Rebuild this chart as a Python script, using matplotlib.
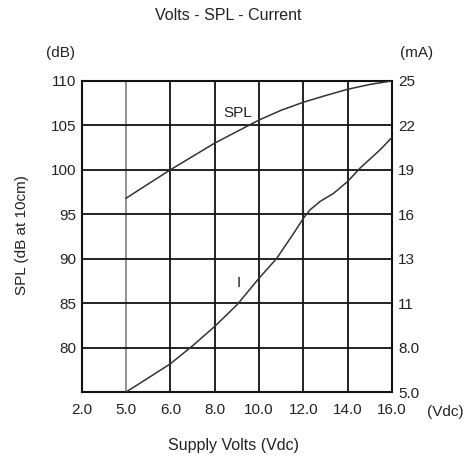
import numpy as np
import matplotlib
matplotlib.use("Agg")
import matplotlib.pyplot as plt

plt.rcParams['font.family'] = ['Liberation Sans', 'DejaVu Sans']

# Axis categories / labels
x_labels = ["2.0", "5.0", "6.0", "8.0", "10.0", "12.0", "14.0", "16.0"]
x_values = [2.0, 5.0, 6.0, 8.0, 10.0, 12.0, 14.0, 16.0]
db_ticks = [80, 85, 90, 95, 100, 105, 110]
ma_labels = ["5.0", "8.0", "11", "13", "16", "19", "22", "25"]
ma_values = [5.0, 8.0, 11.0, 13.0, 16.0, 19.0, 22.0, 25.0]

# SPL curve (dB) vs supply volts
spl_volts = [5, 5.5, 6, 7, 8, 9, 10, 11, 12, 13, 14, 15, 16]
spl_db = [96.8, 98.4, 100.0, 101.5, 103.0, 104.3, 105.6, 106.7, 107.6, 108.35, 109.06, 109.6, 110.0]

# Current curve (mA) vs supply volts
cur_volts = [5, 5.5, 6, 7, 8, 9, 10, 10.8, 11.56, 12, 12.3, 12.76, 13.36, 14, 14.56, 15.46, 16]
cur_ma = [5.0, 5.95, 6.91, 8.12, 9.43, 10.88, 12.12, 13.03, 14.71, 15.73, 16.3, 16.87,
          17.41, 18.22, 19.12, 20.35, 21.19]

fig = plt.figure(figsize=(4.69, 4.57), dpi=100)
ax = fig.add_axes([0.174, 0.142, 0.662, 0.681])

pos = np.arange(len(x_values))
ax.set_xlim(0, len(x_values) - 1)
ax.set_ylim(75, 110)

# grid
for i, p in enumerate(pos):
    if 0 < i < len(pos) - 1:
        col = '#8a8a8a' if i == 1 else '#111111'
        ax.axvline(p, color=col, lw=1.3, zorder=1)
for t in db_ticks[:-1]:
    ax.axhline(t, color='#111111', lw=1.3, zorder=1)
for s in ax.spines.values():
    s.set_linewidth(1.5)
    s.set_color('#111111')

# curves
sx = np.interp(spl_volts, x_values, pos)
ax.plot(sx, spl_db, color='#333333', lw=1.1, zorder=3)

cx = np.interp(cur_volts, x_values, pos)
c_grid = np.interp(cur_ma, ma_values, np.arange(len(ma_values)))
c_db = 75 + 5 * c_grid
ax.plot(cx, c_db, color='#333333', lw=1.1, zorder=3)

ax.text(3.53, 106.4, "SPL", fontsize=11, ha='center', va='center', color='#222222',
        bbox=dict(facecolor='white', edgecolor='none', pad=0.5), zorder=4)
ax.text(3.55, 87.3, "I", fontsize=11, ha='center', va='center', color='#222222', zorder=4)

# ticks
ax.set_xticks(pos)
ax.set_xticklabels(x_labels)
ax.set_yticks(db_ticks)
ax.set_yticklabels([str(t) for t in db_ticks])
ax.tick_params(axis='y', length=0, labelsize=11, colors='#222222', pad=3.5)
ax.tick_params(axis='x', length=0, labelsize=11, colors='#222222', pad=8)

ax2 = ax.twinx()
ax2.set_ylim(0, len(ma_values) - 1)
ax2.set_yticks(np.arange(len(ma_values)))
ax2.set_yticklabels(ma_labels)
ax2.tick_params(length=0, labelsize=11, colors='#222222', pad=4.5)
for s in ax2.spines.values():
    s.set_visible(False)

fig.text(0.4876, 0.967, "Volts - SPL - Current", ha='center', va='center', fontsize=11.5, color='#222222')
fig.text(0.130, 0.883, "(dB)", ha='center', va='center', fontsize=11, color='#222222')
fig.text(0.888, 0.883, "(mA)", ha='center', va='center', fontsize=11, color='#222222')
fig.text(0.949, 0.099, "(Vdc)", ha='center', va='center', fontsize=11, color='#222222')
fig.text(0.497, 0.026, "Supply Volts (Vdc)", ha='center', va='center', fontsize=11.5, color='#222222')
fig.text(0.047, 0.486, "SPL (dB at 10cm)", ha='center', va='center', rotation=90, fontsize=11, color='#222222')

fig.savefig("out.png", dpi=100)
